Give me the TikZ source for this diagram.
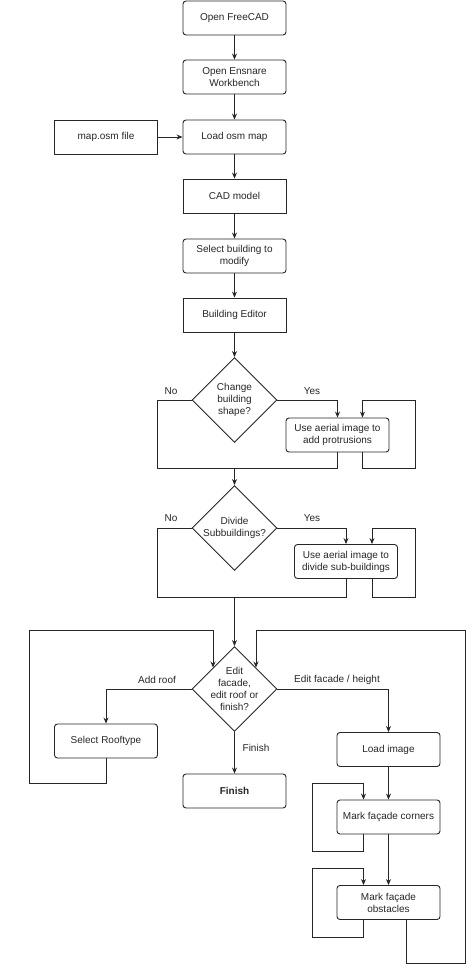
\documentclass[tikz,border=0pt]{standalone}
\usepackage{fontspec}
\setmainfont{Liberation Sans}
\usetikzlibrary{arrows.meta,shapes.geometric}

\begin{document}
\begin{tikzpicture}[x=1pt,y=1pt,line width=0.9pt,font=\fontsize{10}{12}\selectfont,
    every node/.style={align=center,text=black!85},
    proc/.style={draw=black!85,rounded corners=3pt,minimum width=103pt,minimum height=34pt,inner sep=0pt},
    plain/.style={draw=black!85,minimum width=103pt,minimum height=34pt,inner sep=0pt},
    decision/.style={draw=black!85,diamond,aspect=1,minimum width=85pt,minimum height=85pt,inner sep=-7pt},
    line/.style={draw=black!85},
    arr/.style={line,-{Stealth[length=6pt,width=5pt]}}]
            \useasboundingbox (0,0) rectangle (474,-970);
            \node [proc] (free) at (234.5,-18) {Open FreeCAD};
            \node [proc] (ens) at (234.5,-77) {Open Ensnare\\Workbench};
            \node [proc] (load) at (234.5,-137) {Load osm map};
            \node [plain] (osm) at (106,-137) {map.osm file};
            \node [plain] (cad) at (234.5,-196) {CAD model};
            \node [proc] (sel) at (234.5,-256) {Select building to\\modify};
            \node [plain] (edit) at (234.5,-315) {Building Editor};
            \node [decision] (d1) at (234.5,-400) {Change\\building\\shape?};
            \node [proc] (prot) at (337.5,-435) {Use aerial image to\\add protrusions};
            \node [decision] (d2) at (234.5,-528) {Divide\\Subbuildings?};
            \node [proc] (sub) at (346,-561.5) {Use aerial image to\\divide sub-buildings};
            \node [decision] (d3) at (234.5,-689) {Edit\\facade,\\edit roof or\\finish?};
            \node [proc] (roof) at (106,-741) {Select Rooftype};
            \node [proc,font=\fontsize{10}{12}\selectfont\bfseries] (fin) at (234.5,-791) {Finish};
            \node [proc] (img) at (388.5,-749.5) {Load image};
            \node [proc] (corn) at (388.5,-817) {Mark façade corners};
            \node [proc] (obst) at (388.5,-902.5) {Mark façade\\obstacles};
            \node (no1) at (171,-391) {No};
            \node (yes1) at (312,-391) {Yes};
            \node (no2) at (171,-518) {No};
            \node (yes2) at (312,-518) {Yes};
            \node (addroof) at (157,-680) {Add roof};
            \node (finlbl) at (256,-748) {Finish};
            \node (facade) at (337,-680) {Edit facade / height};
            \coordinate (j1) at (234.5,-468);
            \coordinate (j2) at (234.5,-597);
            \draw [arr] (free) -- (ens);
            \draw [arr] (ens) -- (load);
            \draw [arr] (osm) -- (load);
            \draw [arr] (load) -- (cad);
            \draw [arr] (cad) -- (sel);
            \draw [arr] (sel) -- (edit);
            \draw [arr] (edit) -- (d1);
            \draw [line] (d1.west) -| (157,-468) -| (prot.south);
            \draw [arr] (d1.east) -| (prot.north);
            \draw [arr] ([xshift=25pt]prot.south) -- ++(0,-16) -| (415,-400) -| ([xshift=25pt]prot.north);
            \draw [arr] (j1) -- (d2);
            \draw [line] (d2.west) -| (157,-597) -| (sub.south);
            \draw [arr] (d2.east) -| (sub.north);
            \draw [arr] ([xshift=26pt]sub.south) -- ++(0,-18) -| (415,-528) -| ([xshift=26pt]sub.north);
            \draw [arr] (j2) -- (d3);
            \draw [arr] (d3.west) -| (roof.north);
            \draw [arr] (d3.south) -- (fin);
            \draw [arr] (d3.east) -| (img.north);
            \draw [arr] (roof.south) -- ++(0,-25) -| (29,-630) -| (d3.north west);
            \draw [arr] (img) -- (corn);
            \draw [arr] ([xshift=-25pt]corn.south) -- ++(0,-17) -| (312,-783) -| ([xshift=-25pt]corn.north);
            \draw [arr] (corn) -- (obst);
            \draw [arr] ([xshift=-25pt]obst.south) -- ++(0,-17) -| (312,-868) -| ([xshift=-25pt]obst.north);
            \draw [arr] ([xshift=18pt]obst.south) -- ++(0,-43) -| (465,-630) -| (d3.north east);
\end{tikzpicture}
\end{document}
